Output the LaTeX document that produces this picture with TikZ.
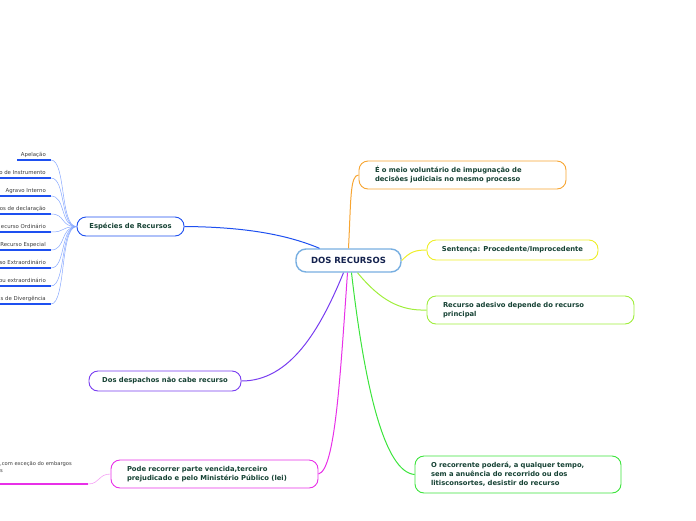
\documentclass[tikz,border=0pt]{standalone}
\usepackage{fontspec}
\setmainfont{DejaVu Sans}

\definecolor{txtgreen}{RGB}{22,66,52}
\definecolor{txtnavy}{RGB}{20,34,78}
\definecolor{leafgray}{RGB}{60,60,60}
\definecolor{mainblue}{RGB}{120,175,225}
\definecolor{brblue}{RGB}{30,80,240}
\definecolor{fanblue}{RGB}{135,168,255}
\definecolor{brorange}{RGB}{247,165,50}
\definecolor{bryellow}{RGB}{238,238,40}
\definecolor{brlime}{RGB}{160,238,60}
\definecolor{brgreen}{RGB}{60,228,60}
\definecolor{brpurple}{RGB}{120,60,240}
\definecolor{brmagenta}{RGB}{232,48,232}
\definecolor{lightmagenta}{RGB}{245,160,245}

\begin{document}
\begin{tikzpicture}[x=1pt,y=-1pt,
    topic/.style={draw, rounded corners=9pt, line width=0.9pt, fill=white,
      text=txtgreen, font=\fontsize{6.8}{9}\selectfont\bfseries,
      inner xsep=12pt, inner ysep=0pt},
    longtopic/.style={topic, align=left, inner xsep=16pt},
    leaf/.style={anchor=base east, inner sep=0pt, text=leafgray,
      font=\fontsize{5.4}{7}\selectfont},
    branch/.style={line width=1pt},
    fan/.style={fanblue, line width=0.5pt},
    uline/.style={brblue, line width=1.4pt}]

    \useasboundingbox (0,0) rectangle (696,520);
    \clip (0,0) rectangle (696,520);

    % Central topic
    \node[topic, draw=mainblue, line width=1.4pt, rounded corners=10pt, text=txtnavy,
      font=\fontsize{8.5}{10}\selectfont\bfseries,
      minimum width=105, minimum height=23] (dos) at (348.5,260.5) {DOS RECURSOS};

    % Right side topics
    \node[longtopic, draw=brorange, text width=175, minimum height=28] (meio) at (462.5,175)
      {É o meio voluntário de impugnação de\\decisões judiciais no mesmo processo};
    \node[topic, draw=bryellow, minimum width=171, minimum height=20] (sent) at (512.5,250)
      {Sentença: Procedente/Improcedente};
    \node[longtopic, draw=brlime, text width=175, minimum height=28] (ades) at (530.5,310)
      {Recurso adesivo depende do recurso\\principal};
    \node[longtopic, draw=brgreen, text width=174, minimum height=37] (desist) at (518,474.5)
      {O recorrente poderá, a qualquer tempo,\\sem a anuência do recorrido ou dos\\litisconsortes, desistir do recurso};

    % Left side topics
    \node[topic, draw=brblue, minimum width=107, minimum height=19] (esp) at (130.5,226.5)
      {Espécies de Recursos};
    \node[topic, draw=brpurple, minimum width=152, minimum height=20] (desp) at (165,381)
      {Dos despachos não cabe recurso};
    \node[longtopic, draw=brmagenta, text width=175, minimum height=28] (pode) at (214.5,474)
      {Pode recorrer parte vencida,terceiro\\prejudicado e pelo Ministério Público (lei)};

    % Branches from the central topic
    \draw[branch, brblue] ([xshift=-29]dos.north) .. controls (290,236) and (250,227) .. (esp.east);
    \draw[branch, brorange] (dos.north) .. controls (351,200) and (350,175) .. (meio.west);
    \draw[branch, bryellow] (dos.east) .. controls (410,252) and (415,250) .. (sent.west);
    \draw[branch, brlime] ([xshift=9]dos.south) .. controls (380,300) and (400,311) .. (ades.west);
    \draw[branch, brgreen] ([xshift=3]dos.south) .. controls (365,390) and (385,472) .. (desist.west);
    \draw[branch, brmagenta] ([xshift=-1]dos.south) .. controls (340,380) and (335,470) .. (pode.east);
    \draw[branch, brpurple] ([xshift=-5]dos.south) .. controls (320,330) and (290,381) .. (desp.east);

    % Leaves of Especies de Recursos
    \coordinate (L1a) at (17,160);  \coordinate (L1b) at (51,160);
    \coordinate (L2a) at (0,178);   \coordinate (L2b) at (51,178);
    \coordinate (L3a) at (0,196);   \coordinate (L3b) at (51,196);
    \coordinate (L4a) at (0,214);   \coordinate (L4b) at (51,214);
    \coordinate (L5a) at (0,232);   \coordinate (L5b) at (51,232);
    \coordinate (L6a) at (0,250);   \coordinate (L6b) at (51,250);
    \coordinate (L7a) at (0,268);   \coordinate (L7b) at (51,268);
    \coordinate (L8a) at (0,286);   \coordinate (L8b) at (51,286);
    \coordinate (L9a) at (0,304);   \coordinate (L9b) at (51,304);

    \node[leaf] (l1) at (46,156) {Apelação};
    \node[leaf] (l2) at (46,174) {o de Instrumento};
    \node[leaf] (l3) at (46,192) {Agravo Interno};
    \node[leaf] (l4) at (46,210) {os de declaração};
    \node[leaf] (l5) at (46,228) {ecurso Ordinário};
    \node[leaf] (l6) at (46,246) {Recurso Especial};
    \node[leaf] (l7) at (46,264) {so Extraordinário};
    \node[leaf] (l8) at (46,282) {ou extraordinário};
    \node[leaf] (l9) at (46,300) {s de Divergência};

    \draw[uline] (L1a) -- (L1b);
    \draw[uline] (L2a) -- (L2b);
    \draw[uline] (L3a) -- (L3b);
    \draw[uline] (L4a) -- (L4b);
    \draw[uline] (L5a) -- (L5b);
    \draw[uline] (L6a) -- (L6b);
    \draw[uline] (L7a) -- (L7b);
    \draw[uline] (L8a) -- (L8b);
    \draw[uline] (L9a) -- (L9b);

    \draw[fan] (esp.west) .. controls (60,227) and (66,160) .. (L1b);
    \draw[fan] (esp.west) .. controls (60,227) and (66,178) .. (L2b);
    \draw[fan] (esp.west) .. controls (60,227) and (66,196) .. (L3b);
    \draw[fan] (esp.west) .. controls (60,227) and (66,214) .. (L4b);
    \draw[fan] (esp.west) .. controls (60,227) and (66,232) .. (L5b);
    \draw[fan] (esp.west) .. controls (60,227) and (66,250) .. (L6b);
    \draw[fan] (esp.west) .. controls (60,227) and (66,268) .. (L7b);
    \draw[fan] (esp.west) .. controls (60,227) and (66,286) .. (L8b);
    \draw[fan] (esp.west) .. controls (60,227) and (66,304) .. (L9b);

    % Leaf of Pode recorrer
    \coordinate (Ma) at (0,484);
    \coordinate (Mb) at (88,484);
    \node[leaf, anchor=base west, align=left, font=\fontsize{5.2}{7}\selectfont] (emb) at (0,472)
      {,com exceção do embargos\\s};
    \draw[lightmagenta, line width=0.6pt] (pode.west) .. controls (98,474) and (100,484) .. (Mb);
    \draw[brmagenta, line width=1.4pt] (Ma) -- (Mb);
  \end{tikzpicture}
\end{document}
